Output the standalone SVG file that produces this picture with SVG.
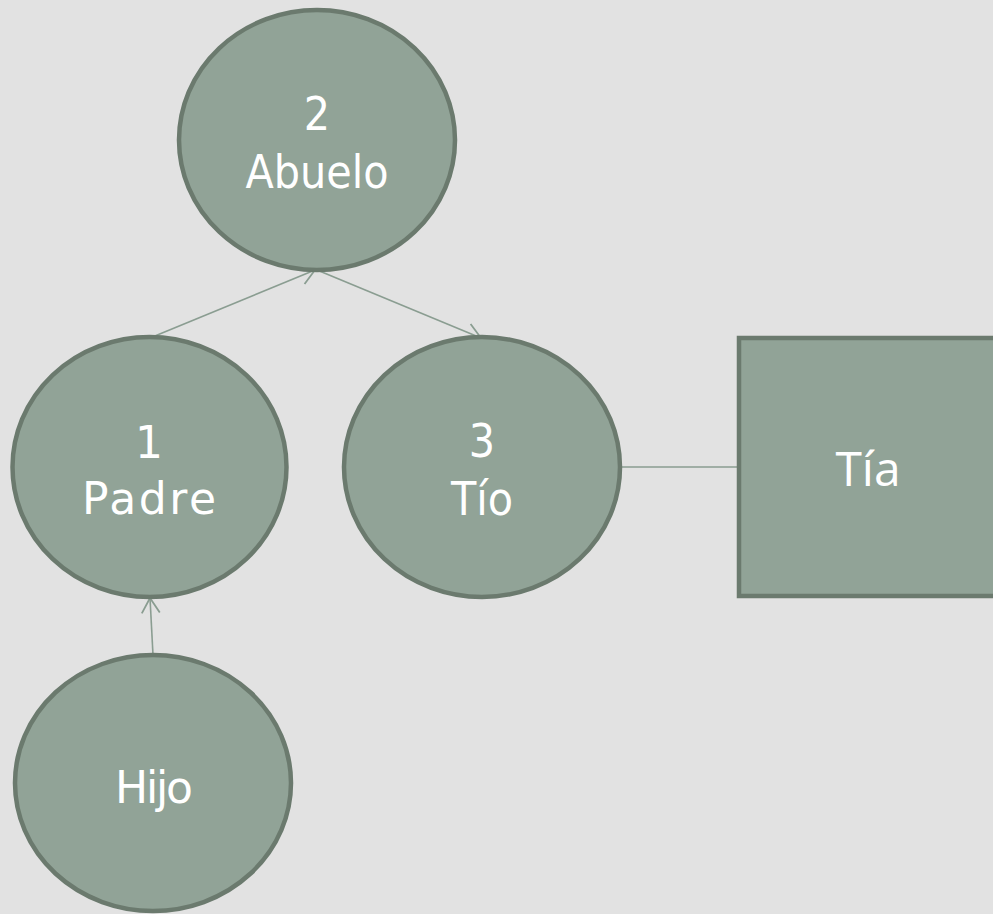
<svg xmlns="http://www.w3.org/2000/svg" width="993" height="914" viewBox="0 0 993 914">
<defs>
<style>
.node{fill:#91a397;stroke:#6b7a6e;stroke-width:4.5}
.edge{stroke:#8a9d91;stroke-width:1.6;fill:none}
.t{fill:#ffffff;text-anchor:middle}
.ta{font-family:"DejaVu Sans Condensed","DejaVu Sans",sans-serif;font-stretch:condensed;font-size:46px}
.tb{font-family:"DejaVu Sans","Liberation Sans",sans-serif;font-size:44px}
.tc{font-family:"Open Sans","Liberation Sans",sans-serif;font-size:48px}
</style>
<marker id="arr" markerWidth="20" markerHeight="22" refX="17" refY="11" orient="auto" markerUnits="userSpaceOnUse">
<path d="M2,2 L17,11 L2,20" fill="none" stroke="#8a9d91" stroke-width="1.8"/>
</marker>
</defs>
<rect width="993" height="914" fill="#e2e2e2"/>
<g id="connectors">
<line class="edge" x1="150" y1="338" x2="315" y2="270" marker-end="url(#arr)"/>
<line class="edge" x1="317" y1="270" x2="481" y2="338" marker-end="url(#arr)"/>
<line class="edge" x1="153" y1="655" x2="150" y2="598" marker-end="url(#arr)"/>
<line class="edge" x1="621" y1="467" x2="739" y2="467"/>
</g>
<g id="abuelo">
<ellipse class="node" cx="317" cy="140" rx="138" ry="130"/>
<text class="t ta" x="317" y="130">2</text>
<text class="t ta" x="317" y="188">Abuelo</text>
</g>
<g id="padre">
<ellipse class="node" cx="149.5" cy="467" rx="137" ry="130"/>
<text class="t tb" x="149" y="458">1</text>
<text class="t tb" x="149" y="514" textLength="134" lengthAdjust="spacing">Padre</text>
</g>
<g id="tio">
<ellipse class="node" cx="482" cy="467" rx="138" ry="130"/>
<text class="t ta" x="482" y="457">3</text>
<text class="t ta" x="482" y="515">Tío</text>
</g>
<g id="hijo">
<ellipse class="node" cx="153" cy="783" rx="138" ry="128"/>
<text class="t tb" x="154" y="803" textLength="78" lengthAdjust="spacing">Hijo</text>
</g>
<g id="tia">
<rect class="node" x="739" y="338" width="270" height="258"/>
<text class="t tc" x="868" y="486">Tía</text>
</g>
</svg>
